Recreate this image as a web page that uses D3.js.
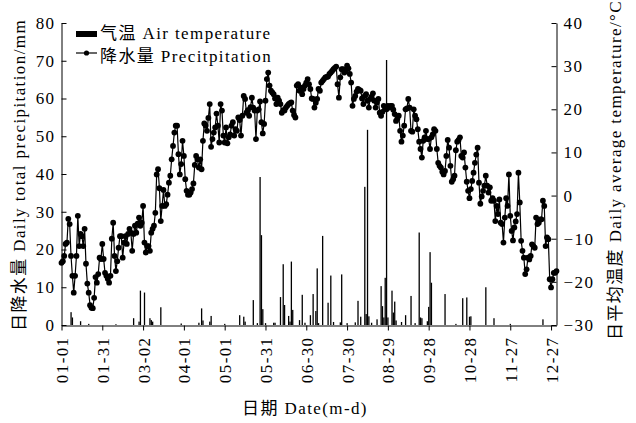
<!DOCTYPE html>
<html><head><meta charset="utf-8">
<script src="https://cdn.jsdelivr.net/npm/d3@7"></script>
<style>
html,body{margin:0;padding:0;background:#fff;}
</style></head>
<body><svg id="c" width="636" height="423"></svg>
<script>
// Daily average temperature (°C), day 0 = 01-01 ... day 364
const tempQ1 = [-15.6,-15.2,-14.0,-11.2,-10.9,-5.4,-6.6,-14.0,-18.6,-22.5,
-18.6,-14.0,-4.7,-11.7,-8.9,-9.4,-11.7,-7.7,-15.8,-20.4,
-22.5,-25.4,-26.0,-26.1,-23.7,-18.9,-20.2,-18.2,-14.4,-14.7,
-11.2,-14.7,-17.9,-18.6,-19.3,-20.2,-18.6,-10.0,-6.3,-14.0,
-17.5,-15.2,-12.1,-9.4,-9.4,-14.4,-10.9,-9.4,-11.2,-8.9,
-7.7,-8.6,-12.8,-8.9,-7.0,-8.6,-6.5,-5.1,-7.0,-6.3,
-2.4,-10.9,-13.2,-11.7,-11.7,-12.8,-8.6,-7.7,-7.0,-4.0,
4.9,6.1,1.7,-5.9,-2.4,1.3,-2.4,-2.0,0.2,3.0,
4.6,8.4,11.5,14.6,16.2,16.2,9.6,4.9,7.3,12.7,
9.2];
const tempQ2 = [3.8,1.1,0.2,0.2,0.7,1.5,2.8,7.1,9.2,8.4,
6.5,8.4,6.1,12.7,16.7,16.2,15.0,18.0,21.2,11.3,
13.1,14.6,15.8,19.0,16.2,12.3,21.2,19.7,13.9,12.3,
15.8,12.1,13.5,14.2,16.2,17.0,13.9,15.4,15.0,18.1,
17.5,13.9,18.5,23.1,22.4,19.2,19.8,18.5,20.5,22.7,
20.4,19.7,13.1,19.7,20.0,21.8,17.0,14.4,16.6,22.0,
27.0,28.5,25.5,24.3,23.9,23.5,22.5,21.2,22.7,22.0,
21.2,19.2,19.8,19.7,20.4,20.8,21.2,21.4,21.6,19.7,
18.7,18.1,25.5,25.8,24.3,25.0,23.5,24.7,25.5,26.2,
27.0];
const tempQ3 = [25.8,24.7,22.5,22.4,20.4,21.5,22.4,24.7,24.3,26.2,
26.6,27.0,27.4,27.5,27.6,28.2,28.5,28.9,29.3,29.6,
29.9,25.8,22.7,27.4,29.3,29.3,28.5,28.9,30.1,29.5,
28.2,26.2,20.8,22.4,23.1,24.1,24.7,24.5,24.3,22.5,
21.2,23.1,23.5,22.0,20.4,22.4,22.9,23.7,22.0,20.4,
21.6,22.4,19.2,18.5,19.4,20.8,20.4,20.0,20.8,20.4,
20.8,20.8,19.9,18.9,17.3,17.8,18.5,15.0,12.5,13.9,
16.2,20.0,20.2,22.4,20.4,15.0,14.8,20.0,18.5,17.7,
15.4,12.5,10.8,8.8,12.7,13.5,15.0,13.1];
const tempQ4 = [13.1,10.8,13.5,14.2,15.4,15.0,10.8,7.6,6.9,6.5,
5.5,4.9,5.7,9.2,12.9,11.1,6.9,3.2,3.8,4.6,
10.5,12.5,12.9,13.5,9.2,8.8,10.0,6.5,3.2,1.1,
-0.6,1.5,3.4,5.3,7.6,9.5,11.1,3.0,-1.9,-0.2,
1.1,2.3,4.6,2.3,0.7,1.9,-1.2,-0.6,-1.2,-5.9,
-2.4,-4.3,-0.9,-6.3,-6.6,-10.9,-5.1,-0.6,-2.4,4.9,
-4.7,-8.2,-10.4,-7.4,-6.0,-4.3,5.3,-1.6,-10.5,-12.8,
-14.4,-18.2,-17.1,-14.4,-14.8,-14.0,-11.3,-11.7,-12.1,-5.1,
-6.6,-6.3,-5.5,-5.5,-1.2,-2.4,-11.7,-9.7,-10.1,-19.4,
-21.3,-19.4,-17.9,-17.9,-17.5];

// Daily precipitation (mm): day index and amount
const precipDays = [7,8,14,20,40,53,57,58,61,65,66,67,73,88,101,103,104,109,110,120,
131,134,135,141,144,146,147,148,150,156,157,161,163,164,167,168,169,170,175,177,179,
183,185,187,188,189,192,196,198,200,205,206,210,216,218,220,223,224,225,226,228,
232,235,236,237,238,239,240,243,244,245,246,250,253,257,260,263,264,265,269,270,271,272,
282,290,295,298,300,301,312,318,330,354];
const precipValues = [3.4,2.0,1.0,0.3,0.2,1.8,0.9,9.1,8.6,1.8,1.3,0.9,4.7,0.4,0.6,4.4,1.2,0.9,2.4,0.3,
2.6,2.2,0.9,6.6,0.5,39.2,23.8,4.2,0.5,0.6,0.6,7.4,16.1,5.3,2.4,0.9,16.8,4.0,1.3,8.0,0.6,
2.6,8.2,3.7,15.0,0.5,23.6,5.9,13.1,0.8,0.7,13.4,0.5,0.7,6.4,2.2,36.6,2.9,51.7,2.3,0.6,
1.5,10.3,5.0,2.0,12.5,70.2,2.0,9.1,3.3,6.2,1.2,0.8,2.6,7.7,0.5,24.5,2.0,1.8,1.0,4.8,19.3,11.2,
8.2,0.3,7.1,7.3,2.2,2.3,10.0,1.8,0.3,1.5];

const tickDays = [0,30,60,90,120,150,180,210,240,270,300,330,360];
const tickLabels = ["01-01","01-31","03-02","04-01","05-01","05-31","06-30","07-30","08-29","09-28","10-28","11-27","12-27"];
const precipTicks = [0,10,20,30,40,50,60,70,80];
const tempTicks = [-30,-20,-10,0,10,20,30,40];

const temps = tempQ1.concat(tempQ2, tempQ3, tempQ4);
const FONT = "'Liberation Serif','Times New Roman','Noto Sans CJK SC',serif";
const svg = d3.select("#c").attr("font-family", FONT);
const FS = 17, LS = 1.4;

const x = d3.scaleLinear().domain([0,364]).range([61.5,556.5]);
const yL = d3.scaleLinear().domain([0,80]).range([325,23]);
const yR = d3.scaleLinear().domain([-30,40]).range([325,23]);

// bars
svg.append("g").selectAll("rect").data(precipDays).join("rect")
  .attr("x", d => x(d) - 0.6).attr("width", 1.3)
  .attr("y", (d,i) => yL(precipValues[i]))
  .attr("height", (d,i) => yL(0) - yL(precipValues[i]))
  .attr("fill", "#000");

// temperature line
const line = d3.line().x((d,i) => x(i)).y(d => yR(d));
svg.append("path").datum(temps).attr("d", line)
  .attr("fill","none").attr("stroke","#000").attr("stroke-width",1.2);
svg.append("g").selectAll("circle").data(temps).join("circle")
  .attr("cx",(d,i)=>x(i)).attr("cy",d=>yR(d)).attr("r",2.9).attr("fill","#000");

function txt(sel){
  return sel.style("font-family",FONT).style("font-size",FS+"px").style("letter-spacing",LS+"px").attr("fill","#000");
}
function styleAxis(g){
  g.attr("font-family",FONT);
  g.selectAll("path,line").attr("stroke","#000").attr("stroke-width",1);
  txt(g.selectAll("text"));
}

// axes
const gL = svg.append("g").attr("transform","translate(61.5,0)")
  .call(d3.axisLeft(yL).tickValues(precipTicks).tickSizeInner(-5).tickSizeOuter(0).tickPadding(6));
styleAxis(gL);
const gR = svg.append("g").attr("transform","translate(556.5,0)")
  .call(d3.axisRight(yR).tickValues(tempTicks).tickSizeInner(-5).tickSizeOuter(0).tickPadding(7));
styleAxis(gR);
const gB = svg.append("g").attr("transform","translate(0,325.5)")
  .call(d3.axisBottom(x).tickValues(tickDays).tickFormat((d,i)=>tickLabels[i]).tickSizeInner(5).tickSizeOuter(0));
styleAxis(gB);
gB.selectAll("text").attr("transform","rotate(-90)").attr("x",-11).attr("y",0)
  .attr("dy","0.35em").style("text-anchor","end");

// axis titles
txt(svg.append("text").attr("transform","translate(25,175) rotate(-90)").attr("text-anchor","middle"))
  .text("日降水量 Daily total precipitation/mm");
txt(svg.append("text").attr("transform","translate(621,170) rotate(-90)").attr("text-anchor","middle"))
  .text("日平均温度 Daily average temperature/°C");
txt(svg.append("text").attr("x",305).attr("y",414).attr("text-anchor","middle"))
  .text("日期 Date(m-d)");

// legend
const lg = svg.append("g");
lg.append("rect").attr("x",76).attr("y",31).attr("width",21).attr("height",6).attr("fill","#000");
txt(lg.append("text").attr("x",100).attr("y",38.5)).text("气温 Air temperature");
lg.append("line").attr("x1",76).attr("x2",97).attr("y1",53).attr("y2",53).attr("stroke","#000").attr("stroke-width",1.2);
lg.append("circle").attr("cx",86.5).attr("cy",53).attr("r",2.6).attr("fill","#000");
txt(lg.append("text").attr("x",100).attr("y",61.5)).text("降水量 Precitpitation");
</script></body></html>
